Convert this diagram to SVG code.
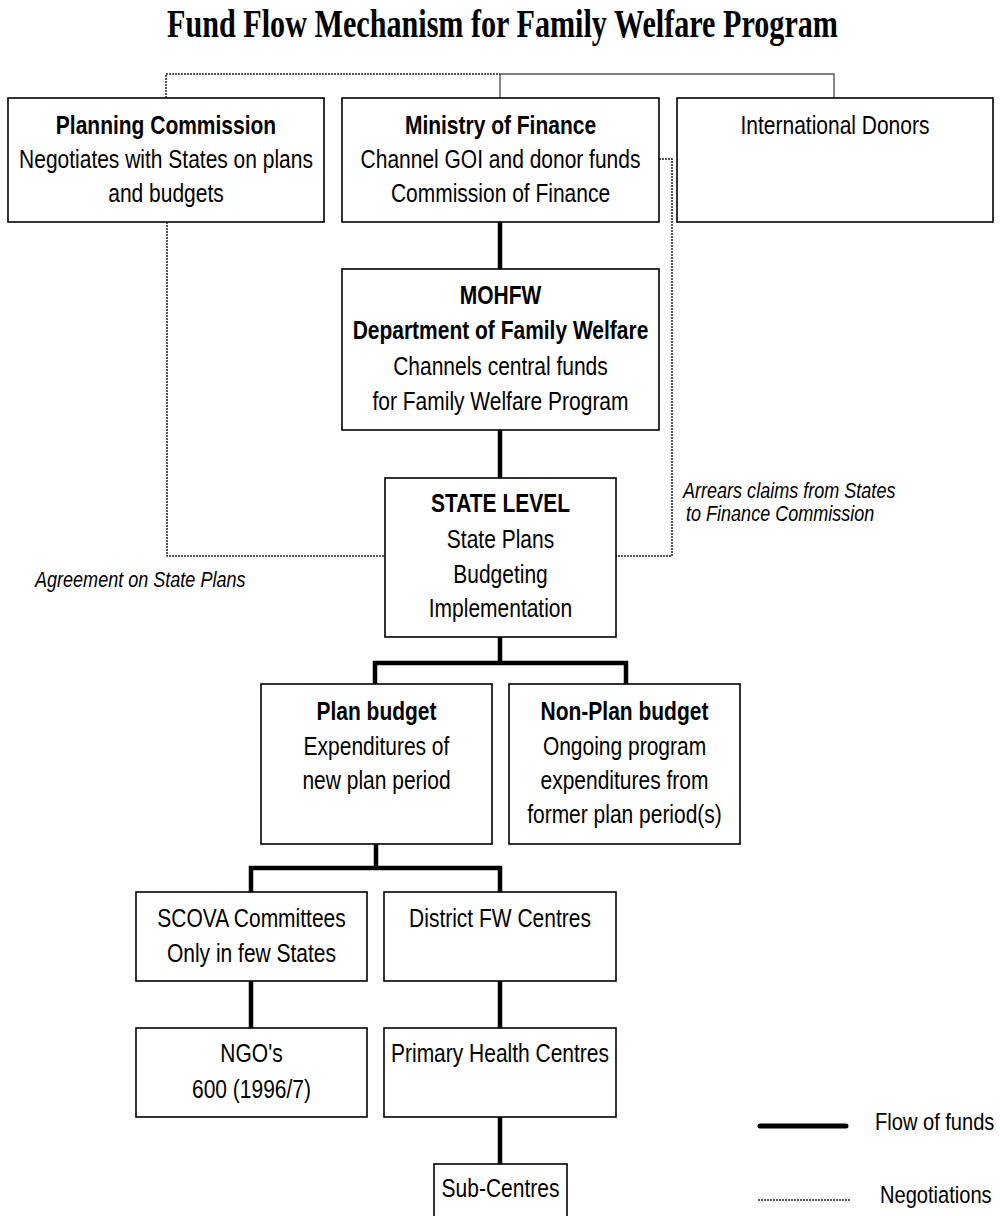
<svg xmlns="http://www.w3.org/2000/svg" width="1000" height="1216" viewBox="0 0 1000 1216">
<style>
.box{fill:#fff;stroke:#000;stroke-width:1.6}
.t{font-family:"Liberation Sans",Arial,sans-serif;font-size:25.6px;fill:#000;text-anchor:middle}
.b{font-weight:bold}
.it{font-family:"Liberation Sans",Arial,sans-serif;font-size:22px;font-style:italic;fill:#000}
.lg{font-family:"Liberation Sans",Arial,sans-serif;font-size:24.5px;fill:#000}
.flow{stroke:#000;stroke-width:4.5;fill:none}
.neg{stroke:#222;stroke-width:1.5;fill:none;stroke-dasharray:2 1}
.thin{stroke:#555;stroke-width:1.4;fill:none}
.title{font-family:"Liberation Serif","Times New Roman",serif;font-weight:bold;font-size:40px;text-anchor:middle;fill:#000}
</style>
<rect width="1000" height="1216" fill="#fff"/>
<g id="title" transform="scale(0.754 1)">
  <text class="title" x="666.45" y="37">Fund Flow Mechanism for Family Welfare Program</text>
</g>

<g id="connectors">
  <path class="neg" d="M166,98 V74 H500"/>
  <path class="thin" d="M500,98 V74 H834 V98"/>
  <path class="neg" d="M167,222 V556 H385"/>
  <path class="neg" d="M659,159 H672 V556 H616"/>
  <path class="flow" d="M500,222 V269"/>
  <path class="flow" d="M500,430 V478"/>
  <path class="flow" d="M500,637 V663 M375,684 V663 H626 V684"/>
  <path class="flow" d="M376,844 V868 M251,892 V868 H500 V892"/>
  <path class="flow" d="M251,981 V1028"/>
  <path class="flow" d="M500,981 V1028"/>
  <path class="flow" d="M500,1117 V1164"/>
</g>

<g id="planning">
  <rect class="box" x="8" y="98" width="316" height="124"/>
  <g transform="scale(0.82 1)">
    <text class="t b" x="202.44" y="134">Planning Commission</text>
    <text class="t" x="202.44" y="168">Negotiates with States on plans</text>
    <text class="t" x="202.44" y="202">and budgets</text>
  </g>
</g>
<g id="finance">
  <rect class="box" x="342" y="98" width="317" height="124"/>
  <g transform="scale(0.82 1)">
    <text class="t b" x="610.37" y="134">Ministry of Finance</text>
    <text class="t" x="610.37" y="168">Channel GOI and donor funds</text>
    <text class="t" x="610.37" y="202">Commission of Finance</text>
  </g>
</g>
<g id="donors">
  <rect class="box" x="677" y="98" width="316" height="124"/>
  <g transform="scale(0.82 1)">
    <text class="t" x="1018.29" y="134">International Donors</text>
  </g>
</g>
<g id="mohfw">
  <rect class="box" x="342" y="269" width="317" height="161"/>
  <g transform="scale(0.82 1)">
    <text class="t b" x="610.37" y="304">MOHFW</text>
    <text class="t b" x="610.37" y="339">Department of Family Welfare</text>
    <text class="t" x="610.37" y="375">Channels central funds</text>
    <text class="t" x="610.37" y="410">for Family Welfare Program</text>
  </g>
</g>
<g id="state">
  <rect class="box" x="385" y="478" width="231" height="159"/>
  <g transform="scale(0.82 1)">
    <text class="t b" x="610.37" y="512">STATE LEVEL</text>
    <text class="t" x="610.37" y="548">State Plans</text>
    <text class="t" x="610.37" y="583">Budgeting</text>
    <text class="t" x="610.37" y="617">Implementation</text>
  </g>
</g>
<g id="arrears-label" transform="scale(0.82 1)">
  <text class="it" x="832.93" y="498">Arrears claims from States</text>
  <text class="it" x="836.59" y="521">to Finance Commission</text>
</g>
<g id="agreement-label" transform="scale(0.82 1)">
  <text class="it" x="42.68" y="587">Agreement on State Plans</text>
</g>
<g id="plan">
  <rect class="box" x="261" y="684" width="231" height="160"/>
  <g transform="scale(0.82 1)">
    <text class="t b" x="459.15" y="720">Plan budget</text>
    <text class="t" x="459.15" y="755">Expenditures of</text>
    <text class="t" x="459.15" y="789">new plan period</text>
  </g>
</g>
<g id="nonplan">
  <rect class="box" x="509" y="684" width="231" height="160"/>
  <g transform="scale(0.82 1)">
    <text class="t b" x="761.59" y="720">Non-Plan budget</text>
    <text class="t" x="761.59" y="755">Ongoing program</text>
    <text class="t" x="761.59" y="789">expenditures from</text>
    <text class="t" x="761.59" y="823">former plan period(s)</text>
  </g>
</g>
<g id="scova">
  <rect class="box" x="136" y="892" width="231" height="89"/>
  <g transform="scale(0.82 1)">
    <text class="t" x="306.71" y="927">SCOVA Committees</text>
    <text class="t" x="306.71" y="962">Only in few States</text>
  </g>
</g>
<g id="district">
  <rect class="box" x="384" y="892" width="232" height="89"/>
  <g transform="scale(0.82 1)">
    <text class="t" x="609.76" y="927">District FW Centres</text>
  </g>
</g>
<g id="ngo">
  <rect class="box" x="136" y="1028" width="231" height="89"/>
  <g transform="scale(0.82 1)">
    <text class="t" x="306.71" y="1062">NGO's</text>
    <text class="t" x="306.71" y="1098">600 (1996/7)</text>
  </g>
</g>
<g id="phc">
  <rect class="box" x="384" y="1028" width="232" height="89"/>
  <g transform="scale(0.82 1)">
    <text class="t" x="609.76" y="1062">Primary Health Centres</text>
  </g>
</g>
<g id="subcentres">
  <rect class="box" x="434" y="1164" width="133" height="70"/>
  <g transform="scale(0.82 1)">
    <text class="t" x="610.37" y="1197">Sub-Centres</text>
  </g>
</g>
<g id="legend">
  <line x1="760" y1="1126" x2="846" y2="1126" stroke="#000" stroke-width="5" stroke-linecap="round"/>
  <line class="neg" x1="758" y1="1200" x2="851" y2="1200"/>
  <g transform="scale(0.82 1)">
    <text class="lg" x="1067.07" y="1130">Flow of funds</text>
    <text class="lg" x="1073.17" y="1203">Negotiations</text>
  </g>
</g>
</svg>
